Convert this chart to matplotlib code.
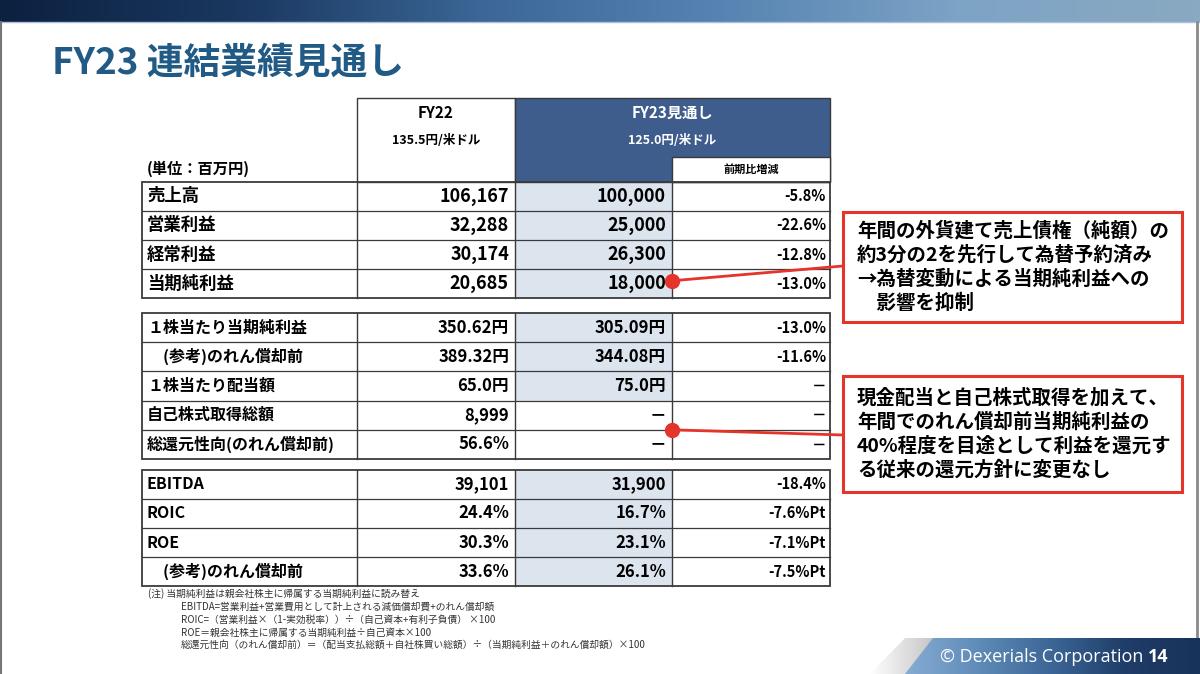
import numpy as np
import matplotlib.pyplot as plt
from matplotlib.patches import Rectangle, Polygon
from matplotlib.colors import LinearSegmentedColormap

plt.rcParams['font.family'] = ['Noto Sans CJK JP', 'DejaVu Sans']

# --- data -------------------------------------------------------------
groups = [
    ["売上高", "営業利益", "経常利益", "当期純利益"],
    ["１株当たり当期純利益", "　(参考)のれん償却前", "１株当たり配当額",
     "自己株式取得総額", "総還元性向(のれん償却前)"],
    ["EBITDA", "ROIC", "ROE", "　(参考)のれん償却前"],
]
fy22 = [
    ["106,167", "32,288", "30,174", "20,685"],
    ["350.62円", "389.32円", "65.0円", "8,999", "56.6%"],
    ["39,101", "24.4%", "30.3%", "33.6%"],
]
fy23 = [
    ["100,000", "25,000", "26,300", "18,000"],
    ["305.09円", "344.08円", "75.0円", "－", "－"],
    ["31,900", "16.7%", "23.1%", "26.1%"],
]
diff = [
    ["-5.8%", "-22.6%", "-12.8%", "-13.0%"],
    ["-13.0%", "-11.6%", "－", "－", "－"],
    ["-18.4%", "-7.6%Pt", "-7.1%Pt", "-7.5%Pt"],
]
col_titles = ["FY22", "FY23見通し"]
fx_rates = ["135.5円/米ドル", "125.0円/米ドル"]

note1 = ["年間の外貨建て売上債権（純額）の",
         "約3分の2を先行して為替予約済み",
         "→為替変動による当期純利益への",
         "　影響を抑制"]
note2 = ["現金配当と自己株式取得を加えて、",
         "年間でのれん償却前当期純利益の",
         "40%程度を目途として利益を還元す",
         "る従来の還元方針に変更なし"]
footnotes = [
    "EBITDA=営業利益+営業費用として計上される減価償却費+のれん償却額",
    "ROIC=（営業利益×（1-実効税率））÷（自己資本+有利子負債） ×100",
    "ROE＝親会社株主に帰属する当期純利益÷自己資本×100",
    "総還元性向（のれん償却前）＝（配当支払総額＋自社株買い総額）÷（当期純利益＋のれん償却額）×100",
]

# --- layout -----------------------------------------------------------
navy = '#3e5c8c'
light = '#dce4ee'
red = '#e5342a'
title_c = '#215a84'
line_c = '#3a3a3a'

xs = [142, 357, 515, 672, 830]
row_h = 29.2
group_top = [181.5, 313, 469.5]

fig = plt.figure(figsize=(12, 6.74), dpi=100)
ax = fig.add_axes([0, 0, 1, 1])
ax.set_xlim(0, 1200)
ax.set_ylim(674, 0)
ax.axis('off')

# top banner
top_cmap = LinearSegmentedColormap.from_list(
    'top', ['#0c2140', '#1a3860', '#3b6696', '#5683b2', '#7da3c6', '#89a9c1'])
grad = np.linspace(0, 1, 400).reshape(1, -1)
ax.imshow(grad, cmap=top_cmap, extent=[0, 1200, 22, 0], aspect='auto', zorder=1)
ax.plot([0, 1200], [22, 22], color='#a9c0d6', lw=1, zorder=2)
ax.plot([1197, 1197], [22, 640], color='#8a8a8a', lw=2, zorder=2)
ax.plot([1, 1], [22, 674], color='#777777', lw=1.5, zorder=2)

# title
ax.text(52, 63, "FY23 連結業績見通し", fontsize=26.5, fontweight='bold',
        color=title_c, va='center', ha='left')

# header
hdr_top = 98
hdr_mid = 157
ax.add_patch(Rectangle((xs[1], hdr_top), xs[2] - xs[1], group_top[0] - hdr_top,
                       facecolor='white', edgecolor=line_c, lw=1, zorder=3))
ax.add_patch(Rectangle((xs[2], hdr_top), xs[4] - xs[2], group_top[0] - hdr_top,
                       facecolor=navy, edgecolor=line_c, lw=1, zorder=3))
ax.add_patch(Rectangle((xs[3], hdr_mid), xs[4] - xs[3], group_top[0] - hdr_mid,
                       facecolor='white', edgecolor=line_c, lw=1, zorder=4))
centers = [(xs[1] + xs[2]) / 2, (xs[2] + xs[4]) / 2]
for i in range(2):
    col = 'black' if i == 0 else 'white'
    ax.text(centers[i], 113, col_titles[i], fontsize=11, fontweight='bold',
            color=col, ha='center', va='center', zorder=5)
    ax.text(centers[i], 141, fx_rates[i], fontsize=9, fontweight='bold',
            color=col, ha='center', va='center', zorder=5)
ax.text((xs[3] + xs[4]) / 2, 169, "前期比増減", fontsize=8, fontweight='bold',
        ha='center', va='center', zorder=5)
ax.text(147, 169, "(単位：百万円)", fontsize=11, fontweight='bold',
        ha='left', va='center', zorder=5)

# body
for g in range(3):
    top = group_top[g]
    n = len(groups[g])
    bottom = top + n * row_h
    lab_fs = 12.5 if g == 0 else 11.5
    val_fs = 13 if g == 0 else 12
    for r in range(n):
        y0 = top + r * row_h
        yc = y0 + row_h / 2
        if fy23[g][r] != "－":
            ax.add_patch(Rectangle((xs[2], y0), xs[3] - xs[2], row_h,
                                   facecolor=light, edgecolor='none', zorder=2))
        if r > 0:
            ax.plot([xs[0], xs[4]], [y0, y0], color=line_c, lw=0.9, zorder=3)
        ax.text(147, yc, groups[g][r], fontsize=lab_fs, fontweight='bold',
                ha='left', va='center', zorder=5)
        ax.text(xs[2] - 6, yc, fy22[g][r], fontsize=val_fs, fontweight='bold',
                ha='right', va='center', zorder=5)
        ax.text(xs[3] - 6, yc, fy23[g][r], fontsize=val_fs, fontweight='bold',
                ha='right', va='center', zorder=5)
        ax.text(xs[4] - 4, yc, diff[g][r], fontsize=10.5, fontweight='bold',
                ha='right', va='center', zorder=5)
    ax.add_patch(Rectangle((xs[0], top), xs[4] - xs[0], bottom - top,
                           facecolor='none', edgecolor=line_c, lw=1.3, zorder=4))
    for x in xs[1:4]:
        ax.plot([x, x], [top, bottom], color=line_c, lw=1, zorder=4)

# callouts
boxes = [(212, 322, note1, group_top[0] + 3.4 * row_h, 266),
         (376, 492, note2, group_top[1] + 4 * row_h, 435)]
for b_top, b_bot, lines, dot_y, hit_y in boxes:
    ax.add_patch(Rectangle((843, b_top), 1182 - 843, b_bot - b_top,
                           facecolor='white', edgecolor=red, lw=2.2, zorder=6))
    mid = (b_top + b_bot) / 2
    for k, t in enumerate(lines):
        ax.text(857, mid + (k - 1.5) * 24, t, fontsize=14, fontweight='bold',
                ha='left', va='center', zorder=7)
    ax.plot([xs[3], 843], [dot_y, hit_y], color=red, lw=2, zorder=6)
    ax.plot(xs[3], dot_y, 'o', color=red, markersize=10, zorder=7)

# footnotes
ax.text(148, 594, "(注) 当期純利益は親会社株主に帰属する当期純利益に読み替え",
        fontsize=7, color='#333333', ha='left', va='center')
for k, t in enumerate(footnotes):
    ax.text(181, 607 + k * 12.7, t, fontsize=7, color='#333333',
            ha='left', va='center')

# footer band
foot_cmap = LinearSegmentedColormap.from_list(
    'foot', ['#86acd2', '#5f8bb8', '#3b6696', '#1f3d68', '#18325a'])
img = ax.imshow(grad, cmap=foot_cmap, extent=[905, 1200, 674, 638],
                aspect='auto', zorder=2)
clip = Polygon([(933, 638), (1200, 638), (1200, 674), (905, 674)],
               closed=True, transform=ax.transData)
img.set_clip_path(clip)
gray_cmap = LinearSegmentedColormap.from_list('g', ['#ffffff', '#c4c4c4'])
gimg = ax.imshow(grad, cmap=gray_cmap, extent=[870, 935, 674, 638],
                 aspect='auto', zorder=1)
gclip = Polygon([(870, 674), (905, 638), (935, 638), (907, 674)],
                closed=True, transform=ax.transData)
gimg.set_clip_path(gclip)
ax.text(940, 657, "© Dexerials Corporation", fontsize=13, color='white',
        family=['Open Sans', 'DejaVu Sans'], ha='left', va='center', zorder=3)
ax.text(1148, 657, "14", fontsize=13, fontweight='bold', color='white',
        family=['Open Sans', 'DejaVu Sans'], ha='left', va='center', zorder=3)

fig.savefig('out.png', dpi=100)
